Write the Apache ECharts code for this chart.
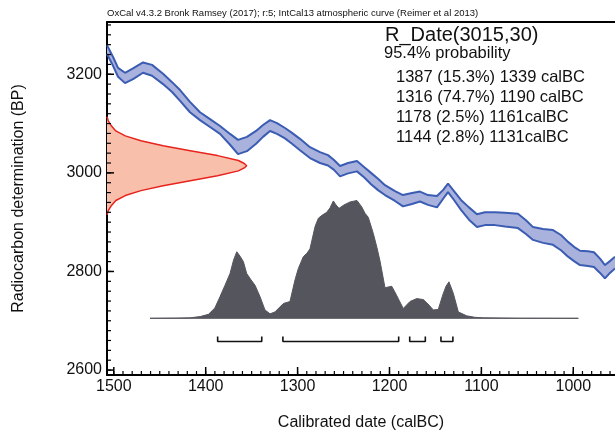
<!DOCTYPE html>
<html>
<head>
<meta charset="utf-8">
<title>R_Date(3015,30)</title>
<script src="https://cdn.jsdelivr.net/npm/echarts@6.0.0/dist/echarts.min.js"></script>
<style>
  html, body { margin: 0; padding: 0; background: #fff; }
  #chart { width: 615px; height: 432px; }
</style>
</head>
<body>
<div id="chart"></div>
<script>
const FONT = '"Liberation Sans", Arial, sans-serif'

// IntCal13 band (calBC runs right to left)
const bandDate = [1507.4, 1500.8, 1495.4, 1487.8, 1479.1, 1468.2, 1458.4, 1446.4, 1436.6, 1427.9,
  1417.1, 1406.2, 1395.3, 1384.4, 1373.5, 1364.8, 1355.1, 1345.2, 1337.6, 1330.0,
  1322.4, 1313.7, 1306.1, 1297.4, 1286.5, 1275.6, 1266.9, 1260.4, 1253.8, 1245.1,
  1235.4, 1227.7, 1220.1, 1212.5, 1204.9, 1194.0, 1185.3, 1175.5, 1166.8, 1158.1,
  1148.3, 1141.8, 1136.3, 1129.8, 1122.2, 1113.5, 1104.8, 1096.1, 1085.2, 1074.3,
  1060.2, 1051.5, 1043.8, 1032.9, 1022.1, 1013.4, 1005.7, 999.2, 992.7, 984.0,
  977.5, 970.9, 965.5, 960.1, 954.6]
const bandUpper = [3259, 3235, 3213, 3203, 3212, 3224, 3219, 3201, 3184, 3168,
  3144, 3123, 3109, 3095, 3079, 3067, 3073, 3085, 3097, 3107,
  3101, 3091, 3081, 3069, 3052, 3042, 3036, 3026, 3014, 3020,
  3024, 3012, 3000, 2988, 2975, 2963, 2955, 2959, 2962, 2955,
  2953, 2965, 2978, 2963, 2945, 2930, 2916, 2920, 2920, 2919,
  2917, 2904, 2890, 2886, 2884, 2874, 2860, 2850, 2842, 2841,
  2839, 2826, 2813, 2821, 2830]
const bandLower = [3241, 3217, 3195, 3182, 3190, 3203, 3197, 3180, 3164, 3146,
  3123, 3107, 3093, 3079, 3057, 3038, 3044, 3059, 3073, 3085,
  3079, 3070, 3059, 3046, 3030, 3020, 3015, 3006, 2993, 2999,
  3003, 2991, 2977, 2965, 2955, 2943, 2932, 2937, 2942, 2935,
  2930, 2947, 2961, 2945, 2925, 2905, 2890, 2894, 2894, 2891,
  2888, 2876, 2864, 2858, 2854, 2843, 2830, 2821, 2813, 2811,
  2809, 2797, 2786, 2797, 2806]

// measured date 3015 +/- 30 BP, drawn against the y axis
const sampleBP = [3114, 3105, 3095, 3085, 3075, 3065, 3055, 3045, 3035, 3025, 3019, 3014.5,
  3010, 3004, 2994, 2984, 2974, 2964, 2954, 2944, 2934, 2924, 2915]
const sampleDate = [1507.4, 1505.9, 1502.5, 1497.8, 1487.5, 1470.5, 1446.3, 1416.8, 1387.1, 1364.4, 1358, 1355.4,
  1358, 1364.4, 1387.1, 1416.8, 1446.3, 1470.5, 1487.5, 1497.8, 1502.5, 1505.9, 1507.4]

// calibrated probability, drawn above a base line
const distDate = [1460.6, 1430, 1417, 1406, 1397, 1390, 1384.4, 1379, 1373.5, 1369.7,
  1366.2, 1362.6, 1359, 1355.4, 1350.7, 1346.3, 1340.9, 1335.5, 1330, 1324.6,
  1315.5, 1308.3, 1302.8, 1299.2, 1293.8, 1289.8, 1286.5, 1281, 1277.4, 1273.4,
  1268.3, 1264.7, 1261.1, 1258.2, 1254.9, 1249.5, 1242.9, 1235.4, 1230.2, 1226.6,
  1223.1, 1217.6, 1213.6, 1210.3, 1204.9, 1197.6, 1194, 1188.6, 1185, 1177.7,
  1170.4, 1163.2, 1158.1, 1152.3, 1146.9, 1142.1, 1138.5, 1135.3, 1130.6, 1125.1,
  1116, 1107, 1098, 1058, 994.5]
const distBP = [2705, 2705.5, 2706, 2708.5, 2713, 2726, 2749, 2772, 2796, 2823,
  2840, 2831, 2820, 2796, 2783, 2772, 2749, 2722, 2714, 2718,
  2735, 2739, 2783, 2806, 2830, 2837, 2846, 2891, 2908, 2914,
  2920, 2929, 2943, 2935, 2928, 2935, 2941, 2944, 2931, 2918,
  2910, 2877, 2848, 2821, 2767, 2770, 2758, 2738, 2725, 2739,
  2745, 2743, 2734, 2722, 2723, 2752, 2770, 2779, 2756, 2718,
  2710, 2707, 2706, 2705.2, 2705]

// 95.4% ranges
const rangeFrom = [1387, 1316, 1178, 1144]
const rangeTo = [1339, 1190, 1161, 1131]
const rangePct = ['15.3', '74.7', '2.5', '2.8']
const bracketBP = 2658
const bracketEndBP = 2668

// plot extent
const dateMin = 954.6
const dateMax = 1507.4
const bpMin = 2590
const bpMax = 3306

// tick marks
const xTicks = [1500, 1400, 1300, 1200, 1100, 1000]
const yTicks = [2600, 2800, 3000, 3200]
const xMinorTicks = []
for (let v = 960; v <= 1500; v += 10) xMinorTicks.push(v)
const yMinorTicks = []
for (let v = 2600; v <= 3300; v += 20) yMinorTicks.push(v)

const zip = (xs, ys) => xs.map((x, i) => [x, ys[i]])

function polygon(points, style, z) {
  return {
    type: 'custom',
    coordinateSystem: 'cartesian2d',
    silent: true,
    z: z,
    data: [[1200, 3000]],
    renderItem: (params, api) => ({
      type: 'polygon',
      shape: { points: points.map((p) => api.coord(p)) },
      style: style,
    }),
  }
}

function edge(data, color, width, z) {
  return {
    type: 'line',
    data: data,
    symbol: 'none',
    silent: true,
    z: z,
    lineStyle: { color: color, width: width },
  }
}

// inner tick marks, placed through the axis scales
function tickMarks(values, onX, len, width) {
  return {
    type: 'custom',
    coordinateSystem: 'cartesian2d',
    silent: true,
    z: 6,
    data: values.map((v) => (onX ? [v, bpMin] : [dateMax, v])),
    renderItem: (params, api) => {
      const p = api.coord([api.value(0), api.value(1)])
      const shape = onX
        ? { x1: p[0], y1: p[1], x2: p[0], y2: p[1] - len }
        : { x1: p[0], y1: p[1], x2: p[0] + len, y2: p[1] }
      return { type: 'line', shape: shape, style: { stroke: '#000', lineWidth: width } }
    },
  }
}

const bandPoly = zip(bandDate, bandUpper).concat(zip(bandDate, bandLower).reverse())
const brackets = rangeFrom.map((from, i) =>
  edge([[from, bracketEndBP], [from, bracketBP], [rangeTo[i], bracketBP], [rangeTo[i], bracketEndBP]], '#111', 1.6, 5)
)

const noteLines = rangeFrom.map((from, i) =>
  from + ' (' + rangePct[i] + '%) ' + rangeTo[i] + (i < 2 ? ' calBC' : 'calBC')
)

const textStyle = { color: '#111', fontFamily: FONT }
const plain = (v) => String(v)
const hidden = (grid) => ({ type: 'value', gridIndex: grid, show: false, min: 0, max: 1 })
const noSplit = { show: false }

// grid 0 holds the data; grids 1-2 only carry the tick labels, sized so that
// their scales line up with grid 0 while starting on round numbers
let option = {
  animation: false,
  grid: [
    { left: 107, right: 0, top: 22, bottom: 57, outerBoundsMode: 'none' },
    { left: 107, right: 0, top: 74.3, bottom: 62, outerBoundsMode: 'none' },
    { left: 113.8, right: -50.2, top: 22, bottom: 57, outerBoundsMode: 'none' },
  ],
  xAxis: [
    {
      type: 'value', gridIndex: 0, min: dateMin, max: dateMax, inverse: true,
      name: 'Calibrated date (calBC)', nameLocation: 'middle', nameGap: 40,
      nameTextStyle: { ...textStyle, fontSize: 16 },
      axisLine: { show: true, lineStyle: { color: '#000', width: 2 } },
      axisTick: { show: false },
      axisLabel: { show: false },
      splitLine: noSplit,
    },
    {
      type: 'value', gridIndex: 0, min: dateMin, max: dateMax, inverse: true, position: 'top',
      axisLine: { show: true, lineStyle: { color: '#000', width: 2 } },
      axisTick: { show: false },
      axisLabel: { show: false },
      splitLine: noSplit,
    },
    hidden(1),
    {
      type: 'value', gridIndex: 2, min: 900, max: 1500, interval: 100, inverse: true,
      axisLine: { show: true, lineStyle: { color: '#000', width: 2 } },
      axisTick: { show: false },
      axisLabel: { formatter: plain, margin: 4, showMinLabel: false, ...textStyle, fontSize: 16 },
      splitLine: noSplit,
    },
  ],
  yAxis: [
    {
      type: 'value', gridIndex: 0, min: bpMin, max: bpMax,
      name: 'Radiocarbon determination (BP)', nameLocation: 'middle', nameGap: 80,
      nameTextStyle: { ...textStyle, fontSize: 16 },
      axisLine: { show: true, lineStyle: { color: '#000', width: 2 } },
      axisTick: { show: false },
      axisLabel: { show: false },
      splitLine: noSplit,
    },
    {
      type: 'value', gridIndex: 1, min: 2600, max: 3200, interval: 200,
      axisLine: { show: true, lineStyle: { color: '#000', width: 2 } },
      axisTick: { show: false },
      axisLabel: { formatter: plain, margin: 5, ...textStyle, fontSize: 16 },
      splitLine: noSplit,
    },
    hidden(2),
  ],
  series: [
    polygon(bandPoly, { fill: '#a9b1dd' }, 1),
    edge(zip(bandDate, bandUpper), '#3a5cb3', 2, 2),
    edge(zip(bandDate, bandLower), '#3a5cb3', 2, 2),
    polygon(zip(sampleDate, sampleBP), { fill: '#f8c0ab' }, 1),
    edge(zip(sampleDate, sampleBP), '#e8231d', 1.5, 2),
    polygon(zip(distDate, distBP), { fill: '#55555e', stroke: '#55555e', lineWidth: 1 }, 1),
    tickMarks(xMinorTicks, true, 4, 1.2),
    tickMarks(xTicks, true, 8, 1.5),
    tickMarks(yMinorTicks, false, 4, 1.2),
    tickMarks(yTicks, false, 7, 1.5),
  ].concat(brackets),
}

const notes = [
  { type: 'text', x: 107, y: 13, style: { text: 'OxCal v4.3.2 Bronk Ramsey (2017); r:5; IntCal13 atmospheric curve (Reimer et al 2013)', font: '9.5px ' + FONT, fill: '#111', verticalAlign: 'middle' } },
  { type: 'text', x: 385, y: 35, style: { text: 'R_Date(3015,30)', font: '20px ' + FONT, fill: '#111', verticalAlign: 'middle' } },
  { type: 'text', x: 384, y: 53, style: { text: '95.4% probability', font: '16.5px ' + FONT, fill: '#111', verticalAlign: 'middle' } },
].concat(noteLines.map((t, i) => ({
  type: 'text', x: 396, y: 77 + i * 20.3,
  style: { text: t, font: '16.5px ' + FONT, fill: '#111', verticalAlign: 'middle' },
})))
option.graphic = notes

let myChart = echarts.init(document.getElementById('chart'))
myChart.setOption(option)
</script>
</body>
</html>
